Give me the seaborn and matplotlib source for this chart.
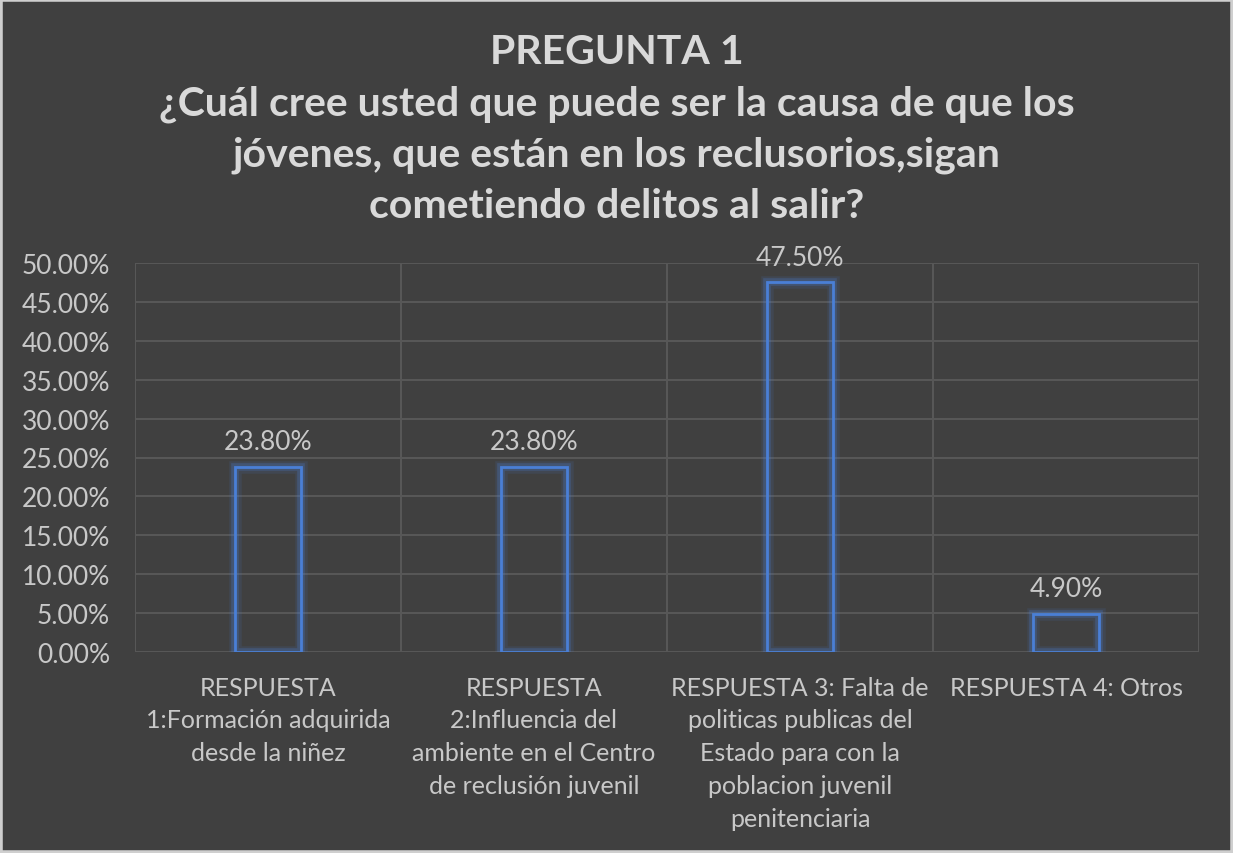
import matplotlib
matplotlib.use("Agg")
import matplotlib.pyplot as plt
import matplotlib.patheffects as pe
import seaborn as sns
import pandas as pd
import numpy as np
from matplotlib.ticker import FuncFormatter, MultipleLocator, FixedLocator

categories = [
    "RESPUESTA\n1:Formación adquirida\ndesde la niñez",
    "RESPUESTA\n2:Influencia del\nambiente en el Centro\nde reclusión juvenil",
    "RESPUESTA 3: Falta de\npoliticas publicas del\nEstado para con la\npoblacion juvenil\npenitenciaria",
    "RESPUESTA 4: Otros",
]
values = [23.80, 23.80, 47.50, 4.90]
title_text = ("PREGUNTA 1\n¿Cuál cree usted que puede ser la causa de que los\n"
              "jóvenes, que están en los reclusorios,sigan\ncometiendo delitos al salir?")

BG = "#404040"
GRID = "#575757"
TXT = "#c8c8c8"
BLUE = "#4a7fd6"

sns.set_theme(style="dark")
plt.rcParams["font.family"] = ["Lato", "DejaVu Sans"]

df = pd.DataFrame({"cat": categories, "val": values})

fig = plt.figure(figsize=(12.33, 8.54), dpi=100, facecolor=BG)
fig.patches.append(plt.Rectangle((0, 0), 1, 1, transform=fig.transFigure,
                                 fill=False, edgecolor="#cfcfcf", linewidth=4, zorder=10))
ax = fig.add_axes([135 / 1233, 1 - 653 / 854, (1199 - 135) / 1233, (653 - 264) / 854])
ax.set_facecolor(BG)

sns.barplot(data=df, x="cat", y="val", ax=ax, width=0.25,
            facecolor="none", edgecolor=BLUE, linewidth=2.0, zorder=3)
for p in ax.patches:
    p.set_path_effects([
        pe.Stroke(linewidth=9, foreground=BLUE, alpha=0.12),
        pe.Stroke(linewidth=5.5, foreground=BLUE, alpha=0.25),
        pe.Normal(),
    ])

for i, v in enumerate(values):
    ax.annotate(f"{v:.2f}%", (i, v), xytext=(0, 9), textcoords="offset points",
                ha="center", va="bottom", color=TXT, fontsize=19)

ax.set_ylim(0, 50)
ax.set_xlim(-0.5, len(categories) - 0.5)
ax.yaxis.set_major_locator(MultipleLocator(5))
ax.yaxis.set_major_formatter(FuncFormatter(lambda y, _: f"{y:.2f}%"))
ax.xaxis.set_minor_locator(FixedLocator(np.arange(-0.5, len(categories), 1.0)))
ax.grid(axis="y", which="major", color=GRID, linewidth=1.5, zorder=0)
ax.grid(axis="x", which="minor", color=GRID, linewidth=1.5, zorder=0)
ax.grid(axis="x", which="major", visible=False)
for s in ax.spines.values():
    s.set_visible(False)
ax.set_xlabel("")
ax.set_ylabel("")
ax.tick_params(axis="y", colors=TXT, labelsize=19, length=0, pad=18)
ax.tick_params(axis="x", colors=TXT, labelsize=18, length=0, pad=17)
ax.tick_params(axis="x", which="minor", length=0)
for lbl in ax.get_xticklabels():
    lbl.set_linespacing(1.52)
    lbl.set_verticalalignment("top")

fig.text(0.5, 1 - 34 / 854, title_text, ha="center", va="top", color="#d9d9d9",
         fontsize=29.5, fontweight="bold", linespacing=1.47)

fig.savefig("out.png", dpi=100, facecolor=BG)
